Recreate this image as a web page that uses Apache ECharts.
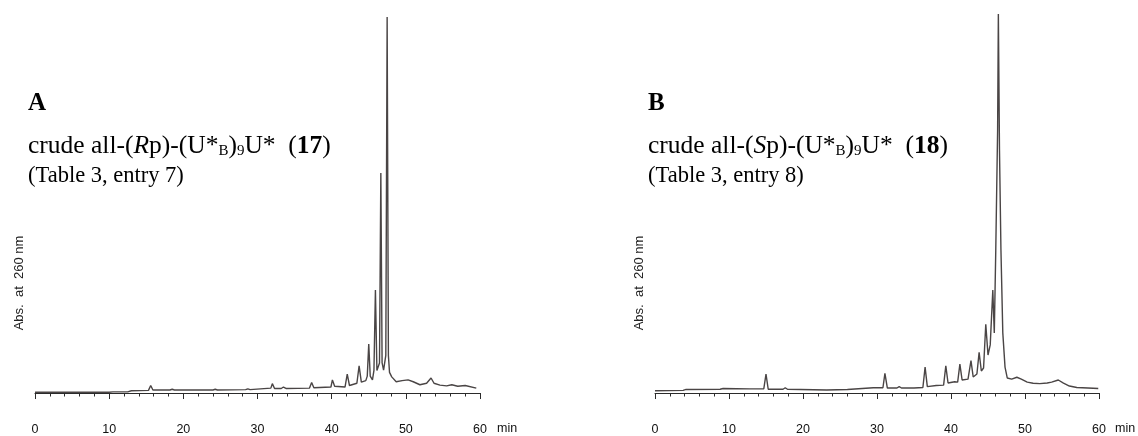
<!DOCTYPE html>
<html>
<head>
<meta charset="utf-8">
<script src="https://cdn.jsdelivr.net/npm/echarts@6/dist/echarts.min.js"></script>
<style>
html,body{margin:0;padding:0;background:#fff;}
#c{width:1138px;height:436px;}
</style>
</head>
<body>
<div id="c"></div>
<script>
// x-axis ticks (min)
const xTicks = [0, 10, 20, 30, 40, 50, 60];

// Panel A trace: retention time (min) and absorbance (relative, main peak = 100)
const timeA = [0, 10, 10.2, 10.5, 12.5, 13, 15.3, 15.6, 15.9, 18.2, 18.5, 18.8, 24, 24.3, 24.6,
  28.4, 28.7, 29, 31.8, 32.0, 32.3, 33.2, 33.5, 33.9, 37.0, 37.3, 37.6, 39.9, 40.1, 40.4,
  41.8, 42.1, 42.4, 43.4, 43.7, 44.0, 44.6, 44.8, 45.0, 45.2, 45.5, 45.7, 45.9, 46.1, 46.3,
  46.45, 46.63, 46.8, 47.0, 47.3, 47.48, 47.65, 47.8, 48.1, 48.7, 49.5, 50.3, 51.0, 51.9,
  52.8, 53.4, 53.8, 54.6, 55.5, 56.2, 57.0, 58.0, 59.5];
const absA = [0.2, 0.2, 0.5, 0.3, 0.3, 0.6, 0.7, 2.0, 0.8, 0.8, 1.0, 0.8, 0.8, 1.0, 0.8,
  0.9, 1.1, 0.9, 1.3, 2.5, 1.2, 1.2, 1.6, 1.2, 1.3, 2.8, 1.4, 1.6, 3.5, 1.8,
  1.6, 5.0, 2.0, 2.6, 7.2, 2.9, 3.3, 4.5, 13.0, 4.5, 3.5, 6.0, 27.4, 6.0, 5.6,
  8.0, 58.5, 8.0, 6.1, 10.0, 100, 10.0, 5.5, 4.3, 3.0, 3.3, 3.5, 3.0, 2.2,
  2.6, 4.0, 2.6, 2.1, 1.9, 2.2, 1.8, 2.0, 1.3];

// Panel B trace
const timeB = [0, 3.8, 4.2, 8.8, 9.2, 12.8, 14.7, 15.0, 15.3, 17.3, 17.6, 17.9, 23.2, 26.0,
  29.5, 30.8, 31.07, 31.4, 32.7, 33.0, 33.3, 35.0, 36.2, 36.5, 36.8, 38.0, 39.0, 39.3, 39.6,
  40.5, 40.9, 41.2, 41.5, 42.3, 42.7, 43.0, 43.5, 43.8, 44.1, 44.4, 44.7, 45.0, 45.3, 45.65,
  45.85, 46.05, 46.3, 46.4, 46.55, 46.75, 47.0, 47.3, 47.6, 48.2, 48.9, 49.5, 50.3, 51.1,
  52.0, 53.0, 53.6, 54.5, 55.2, 56.0, 57.0, 58.5, 59.9];
const absB = [0.6, 0.7, 0.95, 1.0, 1.2, 1.1, 1.1, 5.0, 1.0, 1.0, 1.4, 1.0, 0.8, 0.93,
  1.4, 1.4, 5.2, 1.33, 1.33, 1.7, 1.33, 1.33, 1.46, 6.9, 1.7, 2.0, 2.1, 7.2, 2.66,
  3.0, 2.9, 7.7, 3.46, 3.7, 8.6, 4.26, 5.05, 10.8, 5.85, 6.65, 18.3, 10.1, 12.8, 27.4,
  16.0, 38.0, 70.0, 100.8, 65.0, 38.0, 16.0, 6.9, 4.0, 3.7, 4.2, 3.7, 2.9, 2.6,
  2.5, 2.66, 2.9, 3.46, 2.66, 1.86, 1.46, 1.33, 1.2];

const zip = (t, v) => t.map((x, i) => [x, v[i]]);

const lineColor = '#4a4545';
const axisColor = '#2b2b2b';
const sans = 'Liberation Sans';
const serif = 'Liberation Serif';

function xAxisFor(gi) {
  return {
    gridIndex: gi, type: 'value', min: xTicks[0], max: xTicks[xTicks.length - 1], interval: 10,
    axisLine: { show: true, lineStyle: { color: axisColor, width: 1 } },
    axisTick: { show: true, length: 6, lineStyle: { color: axisColor, width: 1 } },
    minorTick: { show: true, splitNumber: 5, length: 3.5, lineStyle: { color: axisColor, width: 1 } },
    splitLine: { show: false }, minorSplitLine: { show: false },
    axisLabel: { margin: 14, fontFamily: sans, fontSize: 12.5, color: '#111' }
  };
}
function yAxisFor(gi) {
  return {
    gridIndex: gi, type: 'value', min: -4.25, max: 101, show: false,
    splitLine: { show: false }
  };
}

function titleGraphics(x, letter, stereo, num, entry) {
  return [
    { type: 'text', left: x, top: 91, style: { text: letter, font: 'bold 25px "Liberation Serif"', fill: '#000' } },
    { type: 'text', left: x, top: 133, style: {
        text: '{n|crude all-(}{i|' + stereo + '}{n|p)-(U*}{s|B}{n|)}{s|9}{n|U*  (}{b|' + num + '}{n|)}',
        rich: {
          n: { fontFamily: serif, fontSize: 25.5, lineHeight: 30, fill: '#000', verticalAlign: 'bottom' },
          i: { fontFamily: serif, fontSize: 25.5, lineHeight: 30, fontStyle: 'italic', fill: '#000', verticalAlign: 'bottom' },
          b: { fontFamily: serif, fontSize: 25.5, lineHeight: 30, fontWeight: 'bold', fill: '#000', verticalAlign: 'bottom' },
          s: { fontFamily: serif, fontSize: 15, lineHeight: 21, fill: '#000', verticalAlign: 'bottom' }
        } } },
    { type: 'text', left: x, top: 165, style: { text: entry, font: '22.5px "Liberation Serif"', fill: '#000' } }
  ];
}

function sideLabels(axisX, minX) {
  return [
    { type: 'text', x: axisX, y: 283, rotation: Math.PI / 2,
      style: { text: 'Abs.  at  260 nm', font: '13px "Liberation Sans"', fill: '#222', align: 'center', verticalAlign: 'middle' } },
    { type: 'text', x: minX, y: 429,
      style: { text: 'min', font: '12.5px "Liberation Sans"', fill: '#111', align: 'left', verticalAlign: 'middle' } }
  ];
}

const chart = echarts.init(document.getElementById('c'), null, { renderer: 'canvas' });
chart.setOption({
  backgroundColor: '#fff',
  animation: false,
  grid: [
    { left: 35, right: 658, top: 13.3, bottom: 27 },
    { left: 655, right: 39, top: 13.3, bottom: 27 }
  ],
  xAxis: [xAxisFor(0), xAxisFor(1)],
  yAxis: [yAxisFor(0), yAxisFor(1)],
  series: [
    { type: 'line', xAxisIndex: 0, yAxisIndex: 0, data: zip(timeA, absA), showSymbol: false, smooth: false,
      lineStyle: { color: lineColor, width: 1.4 }, clip: false },
    { type: 'line', xAxisIndex: 1, yAxisIndex: 1, data: zip(timeB, absB), showSymbol: false, smooth: false,
      lineStyle: { color: lineColor, width: 1.4 }, clip: false }
  ],
  graphic: [
    ...titleGraphics(28, 'A', 'R', '17', '(Table 3, entry 7)'),
    ...titleGraphics(648, 'B', 'S', '18', '(Table 3, entry 8)'),
    ...sideLabels(19, 497),
    ...sideLabels(639, 1115)
  ]
});
</script>
</body>
</html>
